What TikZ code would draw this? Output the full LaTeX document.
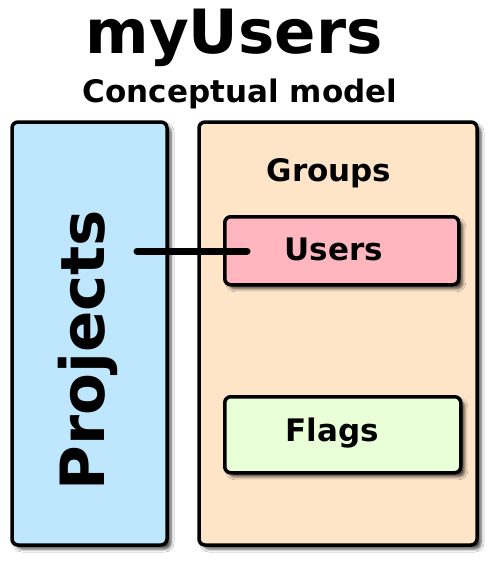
\documentclass[tikz,border=0pt]{standalone}
\usepackage{fontspec}
\setmainfont{DejaVu Sans}
\usetikzlibrary{shadows.blur}
\begin{document}
\begin{tikzpicture}[x=1pt,y=-1pt,
  box/.style={draw=black, line width=3.5pt, rounded corners=6pt,
    blur shadow={shadow xshift=4pt, shadow yshift=-4pt, shadow blur radius=3pt, shadow opacity=70}},
  lbl/.style={font=\bfseries, inner sep=0pt, anchor=center}]
\useasboundingbox[fill=white] (0,0) rectangle (500,586);
\node[lbl, font=\fontsize{61}{61}\bfseries\selectfont] (title) at (234,38) {myUsers};
\node[lbl, font=\fontsize{31}{31}\bfseries\selectfont] (sub) at (240,94) {Conceptual model};
\path[box, fill={rgb,255:red,190;green,230;blue,253}] (12,122) rectangle (167,545);
\path[box, fill={rgb,255:red,255;green,229;blue,200}] (199,122) rectangle (477,545);
\node[lbl, font=\fontsize{31}{31}\bfseries\selectfont] (groups) at (329,173) {Groups};
\node[box, fill={rgb,255:red,255;green,182;blue,190}, minimum width=234pt, minimum height=68pt, anchor=north west, inner sep=0pt] (usersbox) at (223,215) {};
\node[lbl, font=\fontsize{31}{31}\bfseries\selectfont] (users) at (334,249) {Users};
\node[box, fill={rgb,255:red,232;green,255;blue,216}, minimum width=236pt, minimum height=76pt, anchor=north west, inner sep=0pt] (flagsbox) at (223,395) {};
\node[lbl, font=\fontsize{31}{31}\bfseries\selectfont] (flags) at (332,433) {Flags};
\node[lbl, rotate=90, font=\fontsize{61}{61}\bfseries\selectfont] (projects) at (88,350) {Projects};
\coordinate (cstart) at (137,251);
\coordinate (cend) at (247,251);
\draw[line width=7pt, line cap=round] (cstart) -- (cend);
\end{tikzpicture}
\end{document}
